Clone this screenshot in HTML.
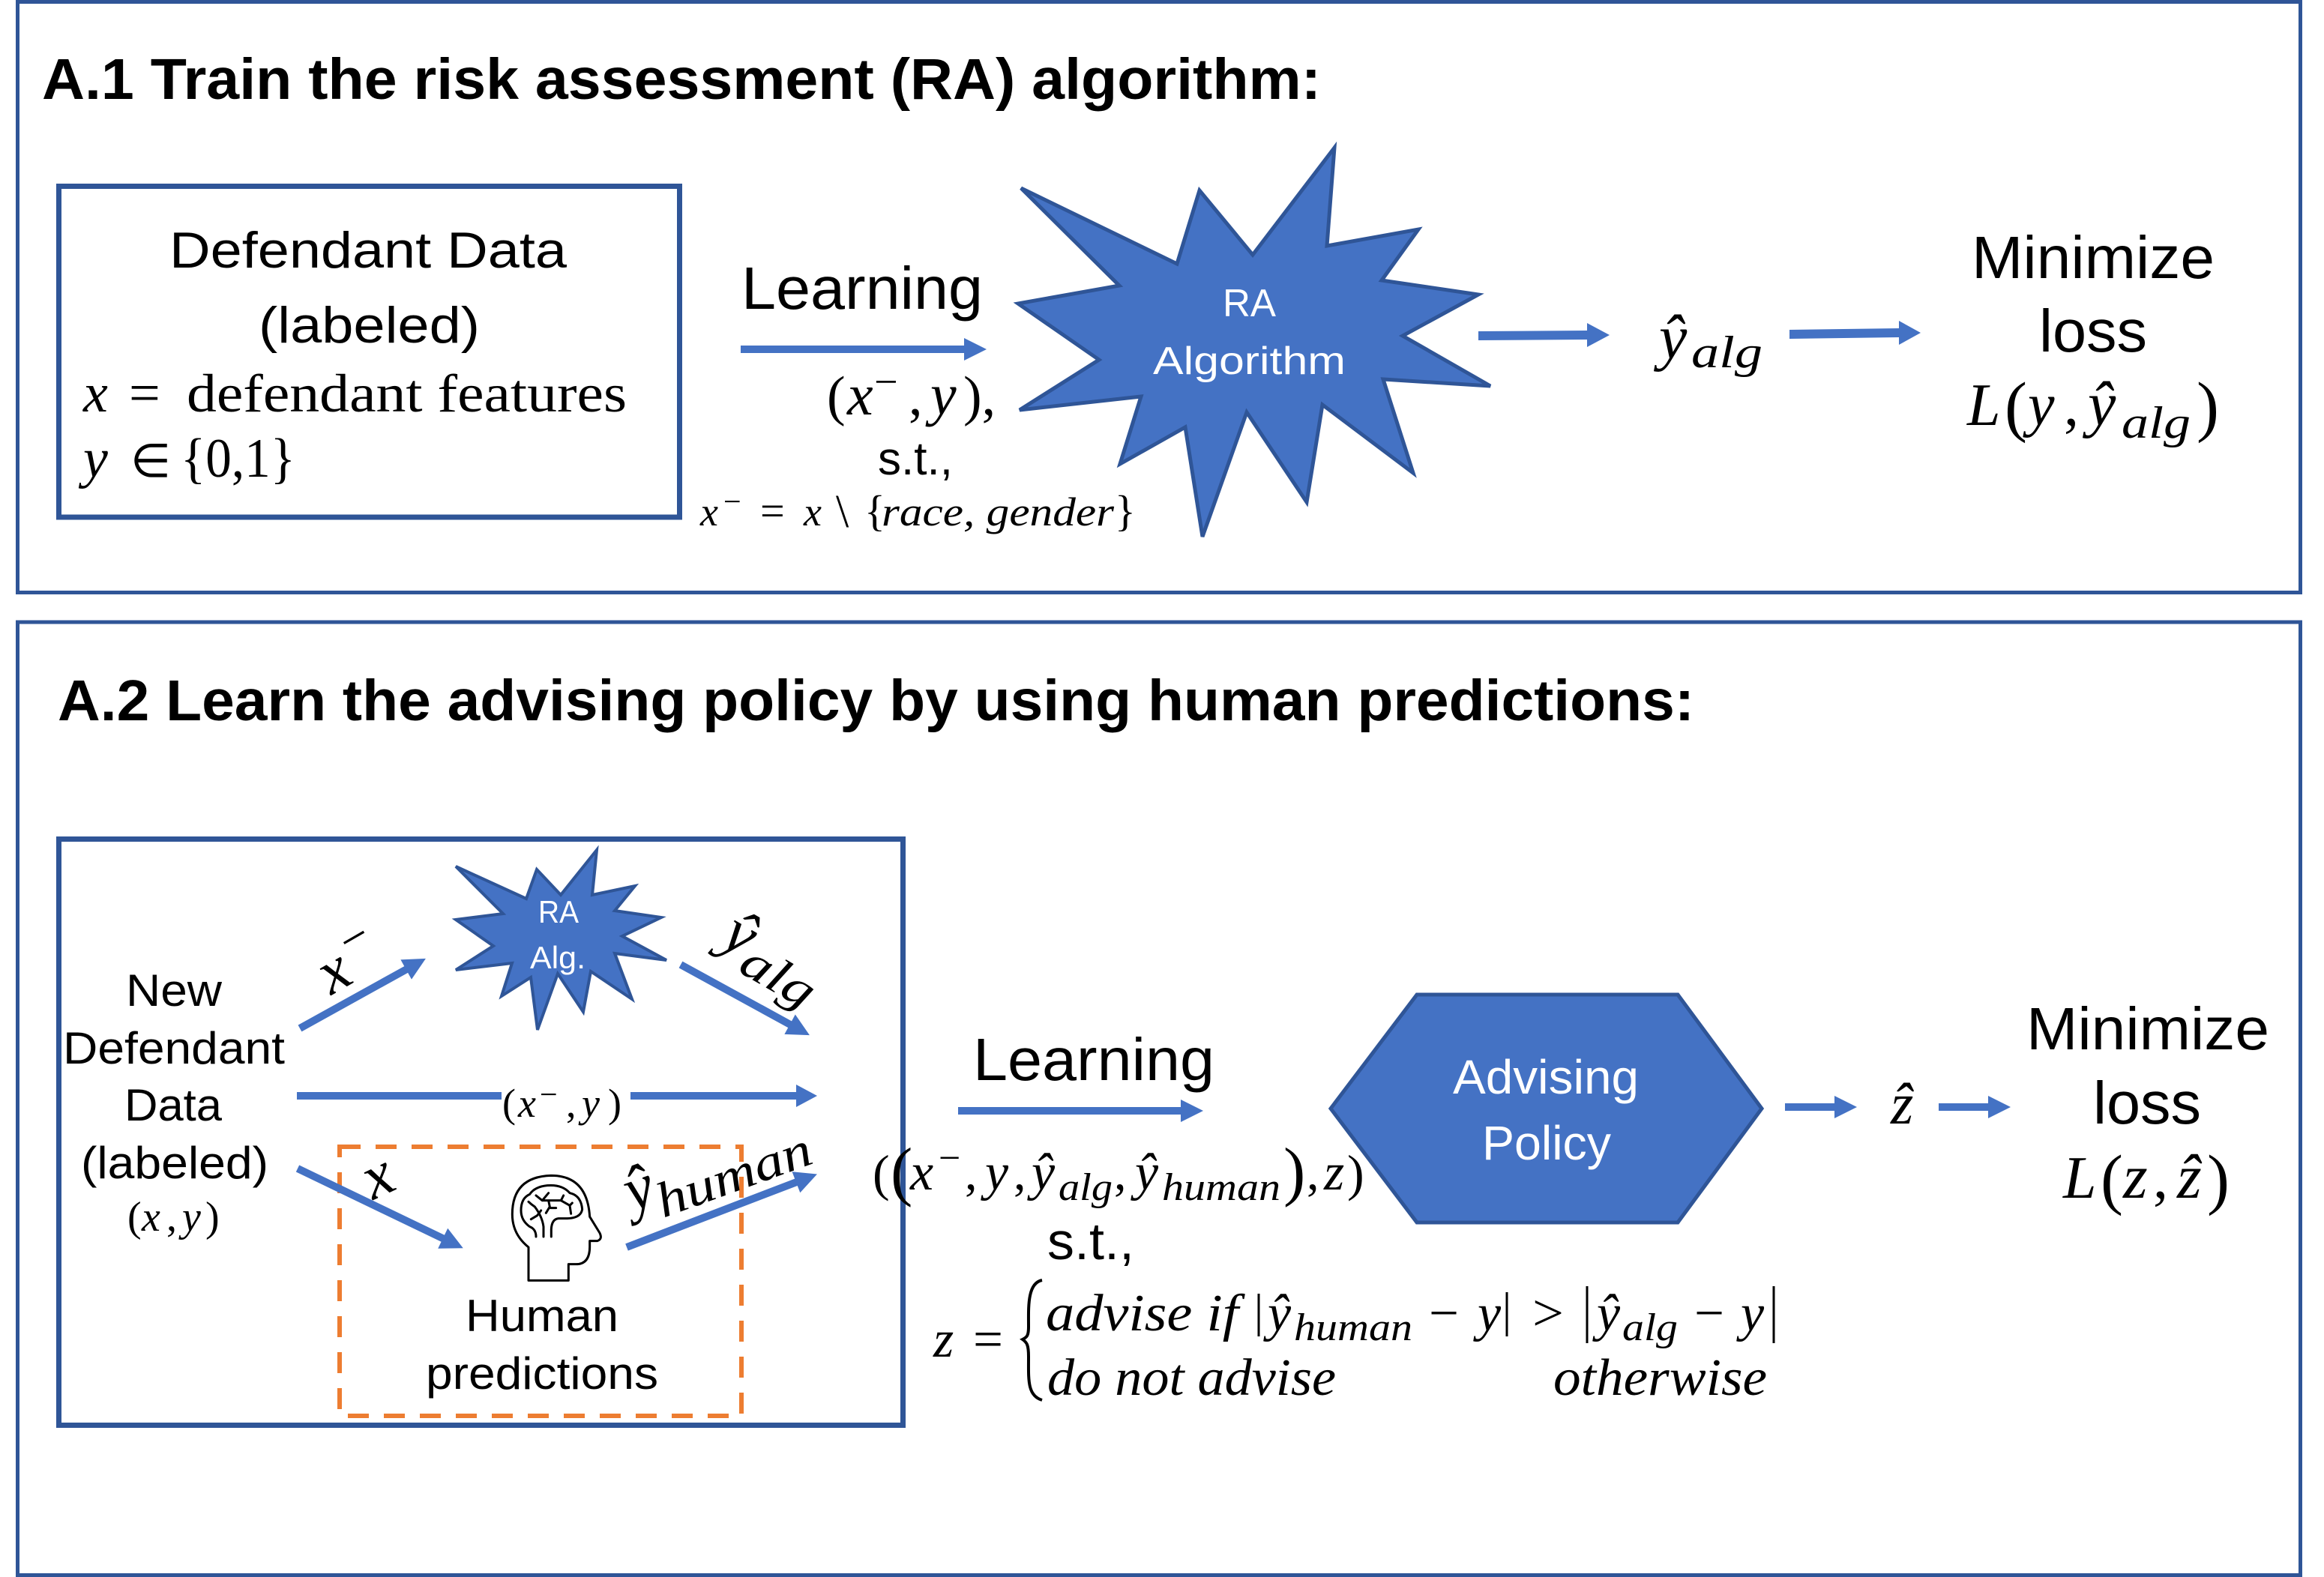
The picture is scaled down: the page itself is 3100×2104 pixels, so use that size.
<!DOCTYPE html>
<html><head><meta charset="utf-8"><title>Diagram</title>
<style>
html,body{margin:0;padding:0;background:#fff;width:3100px;height:2104px;overflow:hidden}
svg{display:block}
text{fill:#000;white-space:pre}
.s{font-family:"Liberation Sans",sans-serif}
.b{font-family:"Liberation Sans",sans-serif;font-weight:bold}
.m{font-family:"Liberation Serif",serif;font-style:italic}
.r{font-family:"Liberation Serif",serif}
text.w{fill:#fff}
</style></head><body>
<svg xmlns="http://www.w3.org/2000/svg" width="3100" height="2104" viewBox="0 0 3100 2104">
<rect width="3100" height="2104" fill="#fff"/>
<!-- panels -->
<rect x="23.5" y="2.5" width="3045" height="788" fill="none" stroke="#2F5597" stroke-width="5"/>
<rect x="23.5" y="830" width="3045" height="1271.5" fill="none" stroke="#2F5597" stroke-width="5"/>
<!-- A.1 -->
<text class="b" x="56" y="132" font-size="77" textLength="1706" lengthAdjust="spacingAndGlyphs">A.1 Train the risk assessment (RA) algorithm:</text>
<rect x="78.5" y="248.5" width="828" height="441.5" fill="none" stroke="#2F5597" stroke-width="7"/>
<text class="s" x="226" y="357" font-size="68" textLength="530" lengthAdjust="spacingAndGlyphs">Defendant Data</text>
<text class="s" x="345" y="457" font-size="68" textLength="295" lengthAdjust="spacingAndGlyphs">(labeled)</text>
<text class="m" x="111" y="549" font-size="74">x</text>
<text class="r" x="172" y="549" font-size="74">=</text>
<text class="r" x="249" y="549" font-size="72" textLength="587" lengthAdjust="spacingAndGlyphs">defendant features</text>
<text class="m" x="111" y="636" font-size="74">y</text>
<text class="r" x="174" y="636" font-size="62">∈</text>
<text class="r" x="241" y="636" font-size="74" textLength="153" lengthAdjust="spacingAndGlyphs">{0,1}</text>
<text class="s" x="989" y="412" font-size="80" textLength="322" lengthAdjust="spacingAndGlyphs">Learning</text>
<polygon points="988,461 1286,461 1286,451 1316,466 1286,481 1286,471 988,471" fill="#4472C4"/>
<text class="r" x="1103" y="553" font-size="74">(</text>
<text class="m" x="1130" y="553" font-size="78">x</text>
<text class="r" x="1166" y="528" font-size="56">−</text>
<text class="r" x="1212" y="553" font-size="74">,</text>
<text class="m" x="1241" y="553" font-size="78">y</text>
<text class="r" x="1285" y="553" font-size="74">),</text>
<text class="s" x="1171" y="633" font-size="62" textLength="100" lengthAdjust="spacingAndGlyphs">s.t.,</text>
<text class="m" x="934" y="701" font-size="54">x</text>
<text class="r" x="965" y="683" font-size="42">−</text>
<text class="r" x="1014" y="701" font-size="58">=</text>
<text class="m" x="1072" y="701" font-size="54">x</text>
<text class="r" x="1115" y="703" font-size="62">\</text>
<text class="r" x="1153" y="701" font-size="58">{</text>
<text class="m" x="1176" y="701" font-size="54" textLength="310" lengthAdjust="spacingAndGlyphs">race, gender</text>
<text class="r" x="1487" y="701" font-size="58">}</text>
<polygon points="1362,251 1570,352 1600,254 1671,340 1780,197 1770,328 1892,306 1843,374 1972,393 1871,448 1988,515 1845,506 1885,631 1764,540 1743,670 1663,550 1604,716 1581,570 1494,619 1522,529 1360,547 1466,480 1358,405 1493,381"
 fill="#4472C4" stroke="#2F5597" stroke-width="5"/>
<text class="s w" x="1631" y="422" font-size="52" textLength="71" lengthAdjust="spacingAndGlyphs">RA</text>
<text class="s w" x="1538" y="499" font-size="52" textLength="257" lengthAdjust="spacingAndGlyphs">Algorithm</text>
<polygon points="1972,442 2117,441 2117,431 2147,447 2117,463 2117,453 1972,454" fill="#4472C4"/>
<text class="m" x="2213" y="478" font-size="84">ŷ</text>
<text class="m" x="2256" y="490" font-size="60" textLength="95" lengthAdjust="spacingAndGlyphs">alg</text>
<polygon points="2387,440 2533,438 2533,428 2562,444 2533,460 2533,450 2387,452" fill="#4472C4"/>
<text class="s" x="2630" y="371" font-size="80" textLength="324" lengthAdjust="spacingAndGlyphs">Minimize</text>
<text class="s" x="2720" y="469" font-size="80" textLength="144" lengthAdjust="spacingAndGlyphs">loss</text>
<text class="m" x="2624" y="567" font-size="80">L</text>
<text class="r" x="2674" y="572" font-size="90">(</text>
<text class="m" x="2705" y="567" font-size="80">y</text>
<text class="r" x="2753" y="567" font-size="80">,</text>
<text class="m" x="2785" y="567" font-size="84">ŷ</text>
<text class="m" x="2830" y="584" font-size="60" textLength="92" lengthAdjust="spacingAndGlyphs">alg</text>
<text class="r" x="2930" y="572" font-size="90">)</text>
<!-- A.2 -->
<text class="b" x="77" y="961" font-size="77" textLength="2183" lengthAdjust="spacingAndGlyphs">A.2 Learn the advising policy by using human predictions:</text>
<rect x="78.5" y="1119.5" width="1126" height="782" fill="none" stroke="#2F5597" stroke-width="7"/>
<rect x="453" y="1530" width="536" height="359" fill="none" stroke="#ED7D31" stroke-width="6" stroke-dasharray="28 20"/>
<polygon points="608,1156 702,1199 716,1160 748,1194 796,1134 790,1194 847,1182 820,1215 882,1224 830,1249 889,1281 820,1272 843,1333 788,1296 778,1350 744,1299 717,1374 708,1304 669,1329 683,1285 608,1294 658,1262 608,1227 671,1219"
 fill="#4472C4" stroke="#2F5597" stroke-width="4"/>
<text class="s w" x="718" y="1231" font-size="42" textLength="54" lengthAdjust="spacingAndGlyphs">RA</text>
<text class="s w" x="707" y="1292" font-size="42" textLength="74" lengthAdjust="spacingAndGlyphs">Alg.</text>
<text class="s" x="168" y="1342" font-size="60" textLength="128" lengthAdjust="spacingAndGlyphs">New</text>
<text class="s" x="84" y="1419" font-size="60" textLength="296" lengthAdjust="spacingAndGlyphs">Defendant</text>
<text class="s" x="166" y="1495" font-size="60" textLength="130" lengthAdjust="spacingAndGlyphs">Data</text>
<text class="s" x="108" y="1572" font-size="60" textLength="250" lengthAdjust="spacingAndGlyphs">(labeled)</text>
<text class="r" x="170" y="1642" font-size="56">(</text>
<text class="m" x="189" y="1642" font-size="56">x</text>
<text class="r" x="222" y="1642" font-size="56">,</text>
<text class="m" x="243" y="1642" font-size="56">y</text>
<text class="r" x="274" y="1642" font-size="56">)</text>
<!-- arrows inside -->
<g fill="#4472C4">
<polygon transform="translate(400,1372) rotate(-29)" points="0,-5 162,-5 162,-15 192,0 162,15 162,5 0,5"/>
<polygon transform="translate(908,1287) rotate(28.7)" points="0,-5 166,-5 166,-15 196,0 166,15 166,5 0,5"/>
<polygon points="396,1457 669,1457 669,1467 396,1467"/>
<polygon points="841,1457 1062,1457 1062,1447 1090,1462 1062,1477 1062,1467 841,1467"/>
<polygon transform="translate(397,1559) rotate(25.7)" points="0,-5 215,-5 215,-15 245,0 215,15 215,5 0,5"/>
<polygon transform="translate(836,1664) rotate(-21)" points="0,-5 242,-5 242,-15 272,0 242,15 242,5 0,5"/>
</g>
<text class="m" transform="translate(450,1305) rotate(-30)" font-size="84" text-anchor="middle" y="16">x</text>
<text class="r" transform="translate(475,1256) rotate(-30)" font-size="66" text-anchor="middle" y="16">−</text>
<text class="m" transform="translate(985,1252) rotate(30)" font-size="84" text-anchor="middle" y="20">ŷ</text>
<text class="m" transform="translate(1035,1308) rotate(30)" font-size="66" text-anchor="middle" y="15" textLength="104" lengthAdjust="spacingAndGlyphs">alg</text>
<text class="r" x="670" y="1490" font-size="54">(</text>
<text class="m" x="691" y="1490" font-size="54">x</text>
<text class="r" x="720" y="1474" font-size="42">−</text>
<text class="r" x="755" y="1490" font-size="54">,</text>
<text class="m" x="776" y="1490" font-size="54">y</text>
<text class="r" x="811" y="1490" font-size="54">)</text>
<text class="m" transform="translate(507,1577) rotate(-25)" font-size="84" text-anchor="middle" y="18">x</text>
<text class="m" transform="translate(854,1592) rotate(-20)" font-size="84" text-anchor="middle" y="20">ŷ</text>
<text class="m" transform="translate(981,1574) rotate(-20)" font-size="66" text-anchor="middle" y="15" textLength="216" lengthAdjust="spacingAndGlyphs">human</text>
<!-- head icon -->
<g transform="translate(660,1560) scale(.3333)" fill="none" stroke="#000" stroke-width="9" stroke-linecap="round" stroke-linejoin="round">
<path d="M135,445 L295,445 L295,380 L325,380 Q380,380 380,310 L380,287 L410,287 Q432,280 420,255 L380,190 Q370,25 225,25 Q70,30 70,180 Q70,260 135,312 Z"/>
<path d="M165,270 Q165,240 140,230 Q105,205 105,165 Q105,115 140,100 Q160,70 210,65 Q270,60 300,95 Q345,105 350,160 Q345,195 290,197 L255,197 Q228,200 226,240 L226,270"/>
<path d="M195,270 L195,230 Q190,190 160,150 Q145,140 135,130"/>
<path d="M145,200 L170,185 L185,165"/>
<path d="M165,105 L190,125 L215,95 M190,125 L215,125 L265,125 L275,105 M215,125 L220,150 L205,175 M222,155 L245,155 M265,125 L300,145 L305,178 M300,145 L310,135"/>
</g>
<text class="s" x="621" y="1776" font-size="60" textLength="204" lengthAdjust="spacingAndGlyphs">Human</text>
<text class="s" x="568" y="1853" font-size="60" textLength="310" lengthAdjust="spacingAndGlyphs">predictions</text>
<text class="s" x="1298" y="1441" font-size="80" textLength="322" lengthAdjust="spacingAndGlyphs">Learning</text>
<polygon points="1278,1477 1575,1477 1575,1467 1605,1482 1575,1497 1575,1487 1278,1487" fill="#4472C4"/>
<!-- tuple -->
<text class="r" x="1164" y="1588" font-size="68">(</text>
<text class="r" x="1188" y="1592" font-size="88">(</text>
<text class="m" x="1214" y="1587" font-size="70">x</text>
<text class="r" x="1252" y="1562" font-size="52">−</text>
<text class="r" x="1287" y="1587" font-size="66">,</text>
<text class="m" x="1314" y="1587" font-size="70">y</text>
<text class="r" x="1352" y="1587" font-size="66">,</text>
<text class="m" x="1376" y="1587" font-size="70">ŷ</text>
<text class="m" x="1412" y="1601" font-size="52" textLength="72" lengthAdjust="spacingAndGlyphs">alg</text>
<text class="r" x="1486" y="1587" font-size="66">,</text>
<text class="m" x="1514" y="1587" font-size="70">ŷ</text>
<text class="m" x="1550" y="1601" font-size="52" textLength="158" lengthAdjust="spacingAndGlyphs">human</text>
<text class="r" x="1712" y="1592" font-size="88">)</text>
<text class="r" x="1743" y="1587" font-size="66">,</text>
<text class="m" x="1766" y="1587" font-size="70">z</text>
<text class="r" x="1797" y="1588" font-size="68">)</text>
<text class="s" x="1397" y="1680" font-size="70" textLength="116" lengthAdjust="spacingAndGlyphs">s.t.,</text>
<text class="m" x="1245" y="1810" font-size="70">z</text>
<text class="r" x="1298" y="1810" font-size="70" textLength="40" lengthAdjust="spacingAndGlyphs">=</text>
<path d="M1390,1708 C1370,1712 1372,1745 1372,1770 C1372,1782 1370,1784 1364,1787 C1370,1791 1372,1795 1372,1810 C1372,1840 1370,1862 1390,1868" fill="none" stroke="#000" stroke-width="4"/>
<text class="m" x="1395" y="1775" font-size="70" textLength="257" lengthAdjust="spacingAndGlyphs">advise if</text>
<path d="M1679,1726V1783M2010,1724V1783M2117,1716V1792M2366,1716V1792" stroke="#000" stroke-width="3" fill="none"/>
<text class="m" x="1691" y="1775" font-size="70">ŷ</text>
<text class="m" x="1726" y="1788" font-size="52" textLength="158" lengthAdjust="spacingAndGlyphs">human</text>
<text class="r" x="1906" y="1775" font-size="70" textLength="40" lengthAdjust="spacingAndGlyphs">−</text>
<text class="m" x="1971" y="1775" font-size="70">y</text>
<text class="r" x="2044" y="1775" font-size="70" textLength="42" lengthAdjust="spacingAndGlyphs">&gt;</text>
<text class="m" x="2130" y="1775" font-size="70">ŷ</text>
<text class="m" x="2164" y="1788" font-size="52" textLength="74" lengthAdjust="spacingAndGlyphs">alg</text>
<text class="r" x="2260" y="1775" font-size="70" textLength="40" lengthAdjust="spacingAndGlyphs">−</text>
<text class="m" x="2322" y="1775" font-size="70">y</text>
<text class="m" x="1397" y="1861" font-size="70" textLength="385" lengthAdjust="spacingAndGlyphs">do not advise</text>
<text class="m" x="2072" y="1861" font-size="70" textLength="285" lengthAdjust="spacingAndGlyphs">otherwise</text>
<!-- hexagon -->
<polygon points="1775,1479 1890,1327 2238,1327 2350,1479 2238,1631 1890,1631" fill="#4472C4" stroke="#2F5597" stroke-width="5"/>
<text class="s w" x="1938" y="1459" font-size="64" textLength="248" lengthAdjust="spacingAndGlyphs">Advising</text>
<text class="s w" x="1977" y="1547" font-size="64" textLength="172" lengthAdjust="spacingAndGlyphs">Policy</text>
<polygon points="2381,1472 2447,1472 2447,1462 2477,1477 2447,1492 2447,1482 2381,1482" fill="#4472C4"/>
<text class="m" x="2522" y="1499" font-size="78">ẑ</text>
<polygon points="2586,1472 2652,1472 2652,1462 2682,1477 2652,1492 2652,1482 2586,1482" fill="#4472C4"/>
<text class="s" x="2703" y="1400" font-size="80" textLength="324" lengthAdjust="spacingAndGlyphs">Minimize</text>
<text class="s" x="2792" y="1499" font-size="80" textLength="144" lengthAdjust="spacingAndGlyphs">loss</text>
<text class="m" x="2752" y="1598" font-size="80">L</text>
<text class="r" x="2802" y="1603" font-size="90">(</text>
<text class="m" x="2832" y="1598" font-size="84">z</text>
<text class="r" x="2872" y="1598" font-size="80">,</text>
<text class="m" x="2904" y="1598" font-size="84">ẑ</text>
<text class="r" x="2944" y="1603" font-size="90">)</text>
</svg>
</body></html>
